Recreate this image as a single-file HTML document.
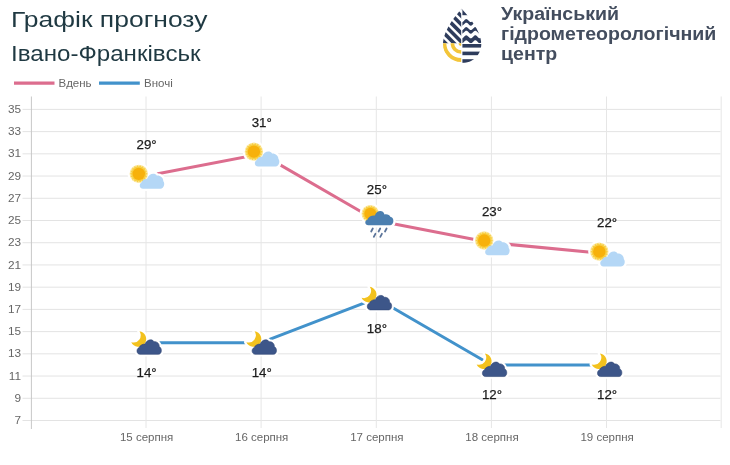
<!DOCTYPE html>
<html lang="uk"><head><meta charset="utf-8"><title>Графік прогнозу</title>
<style>
html,body{margin:0;padding:0;background:#fff;}
body{width:730px;height:465px;position:relative;overflow:hidden;font-family:"Liberation Sans", "DejaVu Sans", sans-serif;}
.t{position:absolute;left:10.8px;color:#1f3942;font-size:21.5px;white-space:nowrap;line-height:1;transform-origin:0 0;}
#t1{top:9.8px;transform:scaleX(1.231);}
#t2{top:44.2px;transform:scaleX(1.122);}
.org{position:absolute;left:500.9px;top:3.5px;color:#434d5e;font-weight:bold;font-size:17.5px;line-height:20.3px;white-space:nowrap;transform-origin:0 0;transform:scaleX(1.117);}
svg{position:absolute;left:0;top:0;}
</style></head><body>
<div id="wrap" style="position:absolute;left:0;top:0;width:730px;height:465px;filter:blur(0.4px);">
<div class="t" id="t1">Графік прогнозу</div>
<div class="t" id="t2">Івано-Франківськ</div>
<div class="org">Український<br>гідрометеорологічний<br>центр</div>
<svg width="730" height="465" viewBox="0 0 730 465" font-family='"Liberation Sans", "DejaVu Sans", sans-serif'>
<line x1="22.5" y1="420.50" x2="720.5" y2="420.50" stroke="#e3e3e3" stroke-width="1"/>
<text x="21.1" y="424.10" text-anchor="end" font-size="11.8" fill="#666">7</text>
<line x1="22.5" y1="398.28" x2="720.5" y2="398.28" stroke="#e3e3e3" stroke-width="1"/>
<text x="21.1" y="401.88" text-anchor="end" font-size="11.8" fill="#666">9</text>
<line x1="22.5" y1="376.06" x2="720.5" y2="376.06" stroke="#e3e3e3" stroke-width="1"/>
<text x="21.1" y="379.66" text-anchor="end" font-size="11.8" fill="#666">11</text>
<line x1="22.5" y1="353.83" x2="720.5" y2="353.83" stroke="#e3e3e3" stroke-width="1"/>
<text x="21.1" y="357.43" text-anchor="end" font-size="11.8" fill="#666">13</text>
<line x1="22.5" y1="331.61" x2="720.5" y2="331.61" stroke="#e3e3e3" stroke-width="1"/>
<text x="21.1" y="335.21" text-anchor="end" font-size="11.8" fill="#666">15</text>
<line x1="22.5" y1="309.39" x2="720.5" y2="309.39" stroke="#e3e3e3" stroke-width="1"/>
<text x="21.1" y="312.99" text-anchor="end" font-size="11.8" fill="#666">17</text>
<line x1="22.5" y1="287.17" x2="720.5" y2="287.17" stroke="#e3e3e3" stroke-width="1"/>
<text x="21.1" y="290.77" text-anchor="end" font-size="11.8" fill="#666">19</text>
<line x1="22.5" y1="264.95" x2="720.5" y2="264.95" stroke="#e3e3e3" stroke-width="1"/>
<text x="21.1" y="268.55" text-anchor="end" font-size="11.8" fill="#666">21</text>
<line x1="22.5" y1="242.72" x2="720.5" y2="242.72" stroke="#e3e3e3" stroke-width="1"/>
<text x="21.1" y="246.32" text-anchor="end" font-size="11.8" fill="#666">23</text>
<line x1="22.5" y1="220.50" x2="720.5" y2="220.50" stroke="#e3e3e3" stroke-width="1"/>
<text x="21.1" y="224.10" text-anchor="end" font-size="11.8" fill="#666">25</text>
<line x1="22.5" y1="198.28" x2="720.5" y2="198.28" stroke="#e3e3e3" stroke-width="1"/>
<text x="21.1" y="201.88" text-anchor="end" font-size="11.8" fill="#666">27</text>
<line x1="22.5" y1="176.06" x2="720.5" y2="176.06" stroke="#e3e3e3" stroke-width="1"/>
<text x="21.1" y="179.66" text-anchor="end" font-size="11.8" fill="#666">29</text>
<line x1="22.5" y1="153.84" x2="720.5" y2="153.84" stroke="#e3e3e3" stroke-width="1"/>
<text x="21.1" y="157.44" text-anchor="end" font-size="11.8" fill="#666">31</text>
<line x1="22.5" y1="131.61" x2="720.5" y2="131.61" stroke="#e3e3e3" stroke-width="1"/>
<text x="21.1" y="135.21" text-anchor="end" font-size="11.8" fill="#666">33</text>
<line x1="22.5" y1="109.39" x2="720.5" y2="109.39" stroke="#e3e3e3" stroke-width="1"/>
<text x="21.1" y="112.99" text-anchor="end" font-size="11.8" fill="#666">35</text>
<line x1="31.4" y1="96.5" x2="31.4" y2="429" stroke="#c8c8c8" stroke-width="1"/>
<line x1="146.0" y1="96.5" x2="146.0" y2="428" stroke="#e6e6e6" stroke-width="1"/>
<line x1="261.1" y1="96.5" x2="261.1" y2="428" stroke="#e6e6e6" stroke-width="1"/>
<line x1="376.3" y1="96.5" x2="376.3" y2="428" stroke="#e6e6e6" stroke-width="1"/>
<line x1="491.4" y1="96.5" x2="491.4" y2="428" stroke="#e6e6e6" stroke-width="1"/>
<line x1="606.5" y1="96.5" x2="606.5" y2="428" stroke="#e6e6e6" stroke-width="1"/>
<line x1="721.2" y1="96.5" x2="721.2" y2="428" stroke="#e6e6e6" stroke-width="1"/>
<text x="146.60" y="440.9" text-anchor="middle" font-size="11.5" fill="#666">15 серпня</text>
<text x="261.70" y="440.9" text-anchor="middle" font-size="11.5" fill="#666">16 серпня</text>
<text x="376.90" y="440.9" text-anchor="middle" font-size="11.5" fill="#666">17 серпня</text>
<text x="492.00" y="440.9" text-anchor="middle" font-size="11.5" fill="#666">18 серпня</text>
<text x="607.10" y="440.9" text-anchor="middle" font-size="11.5" fill="#666">19 серпня</text>
<polyline points="146.00,176.06 261.10,153.84 376.30,220.50 491.40,242.72 606.50,253.83" fill="none" stroke="#dc6d8e" stroke-width="3" stroke-linejoin="round"/>
<polyline points="146.00,342.72 261.10,342.72 376.30,298.28 491.40,364.94 606.50,364.94" fill="none" stroke="#4292cb" stroke-width="3" stroke-linejoin="round"/>
<circle cx="138.80" cy="173.86" r="11.10" fill="#fff"/><path d="M143.00,188.66 C139.40,188.66 138.70,184.06 141.40,182.46 C142.40,179.66 145.00,178.66 147.00,178.96 C148.60,173.66 154.60,172.06 157.00,175.66 C160.00,175.26 163.60,178.06 163.30,181.26 C165.20,183.06 164.20,188.66 160.50,188.66 Z" fill="#fff" stroke="#fff" stroke-width="4.6" stroke-linejoin="round"/><circle cx="138.80" cy="173.86" r="9.20" fill="#fbe7a0"/><polygon points="147.50,173.86 145.89,175.11 146.98,176.83 145.04,177.46 145.46,179.45 143.43,179.37 143.15,181.39 141.26,180.62 140.31,182.43 138.80,181.06 137.29,182.43 136.34,180.62 134.45,181.39 134.17,179.37 132.14,179.45 132.56,177.46 130.62,176.83 131.71,175.11 130.10,173.86 131.71,172.61 130.62,170.88 132.56,170.26 132.14,168.27 134.17,168.34 134.45,166.32 136.34,167.09 137.29,165.29 138.80,166.66 140.31,165.29 141.26,167.09 143.15,166.32 143.43,168.34 145.46,168.27 145.04,170.26 146.98,170.88 145.89,172.61" fill="#f8cf42"/><circle cx="138.80" cy="173.86" r="6.20" fill="#f7b10b"/><path d="M143.00,188.66 C139.40,188.66 138.70,184.06 141.40,182.46 C142.40,179.66 145.00,178.66 147.00,178.96 C148.60,173.66 154.60,172.06 157.00,175.66 C160.00,175.26 163.60,178.06 163.30,181.26 C165.20,183.06 164.20,188.66 160.50,188.66 Z" fill="#b4d7f6"/>
<text x="146.60" y="149.46" text-anchor="middle" font-size="13.3" fill="#1c1c1c" stroke="#1c1c1c" stroke-width="0.25">29°</text>
<circle cx="253.90" cy="151.64" r="11.10" fill="#fff"/><path d="M258.10,166.44 C254.50,166.44 253.80,161.84 256.50,160.24 C257.50,157.44 260.10,156.44 262.10,156.74 C263.70,151.44 269.70,149.84 272.10,153.44 C275.10,153.04 278.70,155.84 278.40,159.04 C280.30,160.84 279.30,166.44 275.60,166.44 Z" fill="#fff" stroke="#fff" stroke-width="4.6" stroke-linejoin="round"/><circle cx="253.90" cy="151.64" r="9.20" fill="#fbe7a0"/><polygon points="262.60,151.64 260.99,152.89 262.08,154.61 260.14,155.24 260.56,157.23 258.53,157.15 258.25,159.17 256.36,158.40 255.41,160.20 253.90,158.84 252.39,160.20 251.44,158.40 249.55,159.17 249.27,157.15 247.24,157.23 247.66,155.24 245.72,154.61 246.81,152.89 245.20,151.64 246.81,150.39 245.72,148.66 247.66,148.04 247.24,146.04 249.27,146.12 249.55,144.10 251.44,144.87 252.39,143.07 253.90,144.44 255.41,143.07 256.36,144.87 258.25,144.10 258.53,146.12 260.56,146.04 260.14,148.04 262.08,148.66 260.99,150.39" fill="#f8cf42"/><circle cx="253.90" cy="151.64" r="6.20" fill="#f7b10b"/><path d="M258.10,166.44 C254.50,166.44 253.80,161.84 256.50,160.24 C257.50,157.44 260.10,156.44 262.10,156.74 C263.70,151.44 269.70,149.84 272.10,153.44 C275.10,153.04 278.70,155.84 278.40,159.04 C280.30,160.84 279.30,166.44 275.60,166.44 Z" fill="#b4d7f6"/>
<text x="261.70" y="127.24" text-anchor="middle" font-size="13.3" fill="#1c1c1c" stroke="#1c1c1c" stroke-width="0.25">31°</text>
<circle cx="370.30" cy="213.70" r="10.70" fill="#fff"/><path d="M368.30,225.30 C364.70,225.10 364.30,220.50 367.30,219.70 C368.30,216.50 372.30,215.00 374.80,215.50 C376.80,210.00 383.30,209.70 384.50,214.50 C387.30,214.00 389.80,215.00 390.30,216.70 C394.10,217.00 394.80,224.30 390.30,225.30 Z" fill="#fff" stroke="#fff" stroke-width="4.6" stroke-linejoin="round"/><circle cx="370.30" cy="213.70" r="8.80" fill="#fbe7a0"/><polygon points="378.60,213.70 377.00,214.88 378.10,216.54 376.19,217.10 376.66,219.04 374.67,218.91 374.45,220.89 372.63,220.09 371.74,221.88 370.30,220.50 368.86,221.88 367.97,220.09 366.15,220.89 365.93,218.91 363.94,219.04 364.41,217.10 362.50,216.54 363.60,214.88 362.00,213.70 363.60,212.52 362.50,210.86 364.41,210.30 363.94,208.37 365.93,208.49 366.15,206.51 367.97,207.31 368.86,205.53 370.30,206.90 371.74,205.53 372.63,207.31 374.45,206.51 374.67,208.49 376.66,208.37 376.19,210.30 378.10,210.86 377.00,212.52" fill="#f8cf42"/><circle cx="370.30" cy="213.70" r="6.00" fill="#f7b10b"/><path d="M368.30,225.30 C364.70,225.10 364.30,220.50 367.30,219.70 C368.30,216.50 372.30,215.00 374.80,215.50 C376.80,210.00 383.30,209.70 384.50,214.50 C387.30,214.00 389.80,215.00 390.30,216.70 C394.10,217.00 394.80,224.30 390.30,225.30 Z" fill="#4b7fb0"/><line x1="372.80" y1="228.50" x2="371.20" y2="231.50" stroke="#5a7399" stroke-width="1.8" stroke-linecap="round"/><line x1="380.20" y1="228.50" x2="378.60" y2="231.50" stroke="#5a7399" stroke-width="1.8" stroke-linecap="round"/><line x1="386.60" y1="228.50" x2="385.00" y2="231.50" stroke="#5a7399" stroke-width="1.8" stroke-linecap="round"/><line x1="375.40" y1="233.80" x2="373.80" y2="236.80" stroke="#5a7399" stroke-width="1.8" stroke-linecap="round"/><line x1="381.90" y1="233.80" x2="380.30" y2="236.80" stroke="#5a7399" stroke-width="1.8" stroke-linecap="round"/>
<text x="376.90" y="193.90" text-anchor="middle" font-size="13.3" fill="#1c1c1c" stroke="#1c1c1c" stroke-width="0.25">25°</text>
<circle cx="484.20" cy="240.52" r="11.10" fill="#fff"/><path d="M488.40,255.32 C484.80,255.32 484.10,250.72 486.80,249.12 C487.80,246.32 490.40,245.32 492.40,245.62 C494.00,240.32 500.00,238.72 502.40,242.32 C505.40,241.92 509.00,244.72 508.70,247.92 C510.60,249.72 509.60,255.32 505.90,255.32 Z" fill="#fff" stroke="#fff" stroke-width="4.6" stroke-linejoin="round"/><circle cx="484.20" cy="240.52" r="9.20" fill="#fbe7a0"/><polygon points="492.90,240.52 491.29,241.77 492.38,243.50 490.44,244.12 490.86,246.12 488.83,246.04 488.55,248.06 486.66,247.29 485.71,249.09 484.20,247.72 482.69,249.09 481.74,247.29 479.85,248.06 479.57,246.04 477.54,246.12 477.96,244.12 476.02,243.50 477.11,241.77 475.50,240.52 477.11,239.27 476.02,237.55 477.96,236.92 477.54,234.93 479.57,235.01 479.85,232.99 481.74,233.76 482.69,231.96 484.20,233.32 485.71,231.96 486.66,233.76 488.55,232.99 488.83,235.01 490.86,234.93 490.44,236.92 492.38,237.55 491.29,239.27" fill="#f8cf42"/><circle cx="484.20" cy="240.52" r="6.20" fill="#f7b10b"/><path d="M488.40,255.32 C484.80,255.32 484.10,250.72 486.80,249.12 C487.80,246.32 490.40,245.32 492.40,245.62 C494.00,240.32 500.00,238.72 502.40,242.32 C505.40,241.92 509.00,244.72 508.70,247.92 C510.60,249.72 509.60,255.32 505.90,255.32 Z" fill="#b4d7f6"/>
<text x="492.00" y="216.12" text-anchor="middle" font-size="13.3" fill="#1c1c1c" stroke="#1c1c1c" stroke-width="0.25">23°</text>
<circle cx="599.30" cy="251.63" r="11.10" fill="#fff"/><path d="M603.50,266.44 C599.90,266.44 599.20,261.83 601.90,260.23 C602.90,257.44 605.50,256.44 607.50,256.73 C609.10,251.43 615.10,249.83 617.50,253.43 C620.50,253.03 624.10,255.83 623.80,259.03 C625.70,260.83 624.70,266.44 621.00,266.44 Z" fill="#fff" stroke="#fff" stroke-width="4.6" stroke-linejoin="round"/><circle cx="599.30" cy="251.63" r="9.20" fill="#fbe7a0"/><polygon points="608.00,251.63 606.39,252.89 607.48,254.61 605.54,255.23 605.96,257.23 603.93,257.15 603.65,259.17 601.76,258.40 600.81,260.20 599.30,258.83 597.79,260.20 596.84,258.40 594.95,259.17 594.67,257.15 592.64,257.23 593.06,255.23 591.12,254.61 592.21,252.89 590.60,251.63 592.21,250.38 591.12,248.66 593.06,248.03 592.64,246.04 594.67,246.12 594.95,244.10 596.84,244.87 597.79,243.07 599.30,244.44 600.81,243.07 601.76,244.87 603.65,244.10 603.93,246.12 605.96,246.04 605.54,248.03 607.48,248.66 606.39,250.38" fill="#f8cf42"/><circle cx="599.30" cy="251.63" r="6.20" fill="#f7b10b"/><path d="M603.50,266.44 C599.90,266.44 599.20,261.83 601.90,260.23 C602.90,257.44 605.50,256.44 607.50,256.73 C609.10,251.43 615.10,249.83 617.50,253.43 C620.50,253.03 624.10,255.83 623.80,259.03 C625.70,260.83 624.70,266.44 621.00,266.44 Z" fill="#b4d7f6"/>
<text x="607.10" y="227.23" text-anchor="middle" font-size="13.3" fill="#1c1c1c" stroke="#1c1c1c" stroke-width="0.25">22°</text>
<path d="M139.47,331.30 A7.8,7.8 0 1 1 131.26,342.17 A7.2,7.2 0 0 0 139.47,331.30 Z" fill="#fff" stroke="#fff" stroke-width="4.6" stroke-linejoin="round"/><path d="M140.00,354.32 C136.40,354.22 136.00,348.72 139.00,347.72 C140.00,345.12 143.00,343.92 145.00,344.12 C146.50,339.72 152.00,338.32 154.00,341.72 C157.00,341.32 159.60,343.72 159.20,346.72 C162.20,347.72 162.20,354.12 158.50,354.32 Z" fill="#fff" stroke="#fff" stroke-width="4.6" stroke-linejoin="round"/><path d="M139.47,331.30 A7.8,7.8 0 1 1 131.26,342.17 A7.2,7.2 0 0 0 139.47,331.30 Z" fill="#f3c21e"/><path d="M140.00,354.32 C136.40,354.22 136.00,348.72 139.00,347.72 C140.00,345.12 143.00,343.92 145.00,344.12 C146.50,339.72 152.00,338.32 154.00,341.72 C157.00,341.32 159.60,343.72 159.20,346.72 C162.20,347.72 162.20,354.12 158.50,354.32 Z" fill="#3d5689" stroke="#2f4574" stroke-width="0.6"/>
<text x="146.60" y="377.22" text-anchor="middle" font-size="13.3" fill="#1c1c1c" stroke="#1c1c1c" stroke-width="0.25">14°</text>
<path d="M254.57,331.30 A7.8,7.8 0 1 1 246.36,342.17 A7.2,7.2 0 0 0 254.57,331.30 Z" fill="#fff" stroke="#fff" stroke-width="4.6" stroke-linejoin="round"/><path d="M255.10,354.32 C251.50,354.22 251.10,348.72 254.10,347.72 C255.10,345.12 258.10,343.92 260.10,344.12 C261.60,339.72 267.10,338.32 269.10,341.72 C272.10,341.32 274.70,343.72 274.30,346.72 C277.30,347.72 277.30,354.12 273.60,354.32 Z" fill="#fff" stroke="#fff" stroke-width="4.6" stroke-linejoin="round"/><path d="M254.57,331.30 A7.8,7.8 0 1 1 246.36,342.17 A7.2,7.2 0 0 0 254.57,331.30 Z" fill="#f3c21e"/><path d="M255.10,354.32 C251.50,354.22 251.10,348.72 254.10,347.72 C255.10,345.12 258.10,343.92 260.10,344.12 C261.60,339.72 267.10,338.32 269.10,341.72 C272.10,341.32 274.70,343.72 274.30,346.72 C277.30,347.72 277.30,354.12 273.60,354.32 Z" fill="#3d5689" stroke="#2f4574" stroke-width="0.6"/>
<text x="261.70" y="377.22" text-anchor="middle" font-size="13.3" fill="#1c1c1c" stroke="#1c1c1c" stroke-width="0.25">14°</text>
<path d="M369.77,286.85 A7.8,7.8 0 1 1 361.56,297.72 A7.2,7.2 0 0 0 369.77,286.85 Z" fill="#fff" stroke="#fff" stroke-width="4.6" stroke-linejoin="round"/><path d="M370.30,309.88 C366.70,309.78 366.30,304.28 369.30,303.28 C370.30,300.68 373.30,299.48 375.30,299.68 C376.80,295.28 382.30,293.88 384.30,297.28 C387.30,296.88 389.90,299.28 389.50,302.28 C392.50,303.28 392.50,309.68 388.80,309.88 Z" fill="#fff" stroke="#fff" stroke-width="4.6" stroke-linejoin="round"/><path d="M369.77,286.85 A7.8,7.8 0 1 1 361.56,297.72 A7.2,7.2 0 0 0 369.77,286.85 Z" fill="#f3c21e"/><path d="M370.30,309.88 C366.70,309.78 366.30,304.28 369.30,303.28 C370.30,300.68 373.30,299.48 375.30,299.68 C376.80,295.28 382.30,293.88 384.30,297.28 C387.30,296.88 389.90,299.28 389.50,302.28 C392.50,303.28 392.50,309.68 388.80,309.88 Z" fill="#3d5689" stroke="#2f4574" stroke-width="0.6"/>
<text x="376.90" y="332.78" text-anchor="middle" font-size="13.3" fill="#1c1c1c" stroke="#1c1c1c" stroke-width="0.25">18°</text>
<path d="M484.87,353.52 A7.8,7.8 0 1 1 476.66,364.39 A7.2,7.2 0 0 0 484.87,353.52 Z" fill="#fff" stroke="#fff" stroke-width="4.6" stroke-linejoin="round"/><path d="M485.40,376.55 C481.80,376.44 481.40,370.94 484.40,369.94 C485.40,367.34 488.40,366.14 490.40,366.34 C491.90,361.94 497.40,360.55 499.40,363.94 C502.40,363.55 505.00,365.94 504.60,368.94 C507.60,369.94 507.60,376.34 503.90,376.55 Z" fill="#fff" stroke="#fff" stroke-width="4.6" stroke-linejoin="round"/><path d="M484.87,353.52 A7.8,7.8 0 1 1 476.66,364.39 A7.2,7.2 0 0 0 484.87,353.52 Z" fill="#f3c21e"/><path d="M485.40,376.55 C481.80,376.44 481.40,370.94 484.40,369.94 C485.40,367.34 488.40,366.14 490.40,366.34 C491.90,361.94 497.40,360.55 499.40,363.94 C502.40,363.55 505.00,365.94 504.60,368.94 C507.60,369.94 507.60,376.34 503.90,376.55 Z" fill="#3d5689" stroke="#2f4574" stroke-width="0.6"/>
<text x="492.00" y="399.44" text-anchor="middle" font-size="13.3" fill="#1c1c1c" stroke="#1c1c1c" stroke-width="0.25">12°</text>
<path d="M599.97,353.52 A7.8,7.8 0 1 1 591.76,364.39 A7.2,7.2 0 0 0 599.97,353.52 Z" fill="#fff" stroke="#fff" stroke-width="4.6" stroke-linejoin="round"/><path d="M600.50,376.55 C596.90,376.44 596.50,370.94 599.50,369.94 C600.50,367.34 603.50,366.14 605.50,366.34 C607.00,361.94 612.50,360.55 614.50,363.94 C617.50,363.55 620.10,365.94 619.70,368.94 C622.70,369.94 622.70,376.34 619.00,376.55 Z" fill="#fff" stroke="#fff" stroke-width="4.6" stroke-linejoin="round"/><path d="M599.97,353.52 A7.8,7.8 0 1 1 591.76,364.39 A7.2,7.2 0 0 0 599.97,353.52 Z" fill="#f3c21e"/><path d="M600.50,376.55 C596.90,376.44 596.50,370.94 599.50,369.94 C600.50,367.34 603.50,366.14 605.50,366.34 C607.00,361.94 612.50,360.55 614.50,363.94 C617.50,363.55 620.10,365.94 619.70,368.94 C622.70,369.94 622.70,376.34 619.00,376.55 Z" fill="#3d5689" stroke="#2f4574" stroke-width="0.6"/>
<text x="607.10" y="399.44" text-anchor="middle" font-size="13.3" fill="#1c1c1c" stroke="#1c1c1c" stroke-width="0.25">12°</text>
<line x1="14" y1="83.2" x2="54.5" y2="83.2" stroke="#dc6d8e" stroke-width="3.2"/>
<text x="58.6" y="86.6" font-size="11.5" fill="#666">Вдень</text>
<line x1="99" y1="83.2" x2="139.8" y2="83.2" stroke="#4292cb" stroke-width="3.2"/>
<text x="144" y="86.6" font-size="11.5" fill="#666">Вночі</text>
<defs>
<clipPath id="dl"><path d="M461.6,8.6 C457,14.5 443.5,29 443,44.5 C443,55.5 451.5,63.2 462,63.2 C472.5,63.2 481.3,55 481.3,44 C481.3,30 466.5,14.5 461.6,8.6 Z"/></clipPath>
</defs>
<g clip-path="url(#dl)">
<clipPath id="lu"><rect x="430" y="0" width="31.20" height="43.2"/></clipPath>
<clipPath id="ru"><rect x="462.40" y="0" width="40" height="43.2"/></clipPath>
<clipPath id="ll"><rect x="430" y="43.2" width="31.20" height="30"/></clipPath>
<clipPath id="rl"><rect x="462.40" y="43.2" width="40" height="30"/></clipPath>
<g clip-path="url(#lu)">
<line x1="421.80" y1="-75.10" x2="501.80" y2="4.90" stroke="#2e3c5c" stroke-width="3.6"/>
<line x1="421.80" y1="-66.50" x2="501.80" y2="13.50" stroke="#2e3c5c" stroke-width="3.6"/>
<line x1="421.80" y1="-57.90" x2="501.80" y2="22.10" stroke="#2e3c5c" stroke-width="3.6"/>
<line x1="421.80" y1="-49.30" x2="501.80" y2="30.70" stroke="#2e3c5c" stroke-width="3.6"/>
<line x1="421.80" y1="-40.70" x2="501.80" y2="39.30" stroke="#2e3c5c" stroke-width="3.6"/>
<line x1="421.80" y1="-32.10" x2="501.80" y2="47.90" stroke="#2e3c5c" stroke-width="3.6"/>
<line x1="421.80" y1="-23.50" x2="501.80" y2="56.50" stroke="#2e3c5c" stroke-width="3.6"/>
<line x1="421.80" y1="-14.90" x2="501.80" y2="65.10" stroke="#2e3c5c" stroke-width="3.6"/>
<line x1="421.80" y1="-6.30" x2="501.80" y2="73.70" stroke="#2e3c5c" stroke-width="3.6"/>
<line x1="421.80" y1="2.30" x2="501.80" y2="82.30" stroke="#2e3c5c" stroke-width="3.6"/>
<line x1="421.80" y1="10.90" x2="501.80" y2="90.90" stroke="#2e3c5c" stroke-width="3.6"/>
<line x1="421.80" y1="19.50" x2="501.80" y2="99.50" stroke="#2e3c5c" stroke-width="3.6"/>
<line x1="421.80" y1="28.10" x2="501.80" y2="108.10" stroke="#2e3c5c" stroke-width="3.6"/>
</g>
<g clip-path="url(#ru)">
<rect x="440" y="0" width="50" height="15.2" fill="#2e3c5c"/>
<path d="M461.80,22.10 L462.36,21.99 L462.91,21.67 L463.47,21.20 L464.02,20.63 L464.57,20.06 L465.13,19.57 L465.69,19.24 L466.24,19.10 L466.80,19.19 L467.35,19.49 L467.91,19.95 L468.46,20.51 L469.01,21.08 L469.57,21.58 L470.12,21.94 L470.68,22.09 L471.24,22.03 L471.79,21.76 L472.35,21.31 L472.90,20.76 L473.45,20.18 L474.01,19.67 L474.56,19.29 L475.12,19.11 L475.68,19.15 L476.23,19.41 L476.79,19.84 L477.34,20.38 L477.89,20.96 L478.45,21.48 L479.00,21.87 L479.56,22.08 L480.12,22.06 L480.67,21.83 L481.23,21.42 L481.78,20.88 L482.33,20.30 L482.89,19.77 L483.44,19.36 L484.00,19.13 L484.00,22.73 L483.44,22.96 L482.89,23.37 L482.33,23.90 L481.78,24.48 L481.23,25.02 L480.67,25.43 L480.12,25.66 L479.56,25.68 L479.00,25.47 L478.45,25.08 L477.89,24.56 L477.34,23.98 L476.79,23.44 L476.23,23.01 L475.68,22.75 L475.12,22.71 L474.56,22.89 L474.01,23.27 L473.45,23.78 L472.90,24.36 L472.35,24.91 L471.79,25.36 L471.24,25.63 L470.68,25.69 L470.12,25.54 L469.57,25.18 L469.01,24.68 L468.46,24.11 L467.91,23.55 L467.35,23.09 L466.80,22.79 L466.24,22.70 L465.69,22.84 L465.13,23.17 L464.57,23.66 L464.02,24.23 L463.47,24.80 L462.91,25.27 L462.36,25.59 L461.80,25.70 Z" fill="#2e3c5c"/>
<path d="M461.80,30.10 L462.36,29.99 L462.91,29.67 L463.47,29.20 L464.02,28.63 L464.57,28.06 L465.13,27.57 L465.69,27.24 L466.24,27.10 L466.80,27.19 L467.35,27.49 L467.91,27.95 L468.46,28.51 L469.01,29.08 L469.57,29.58 L470.12,29.94 L470.68,30.09 L471.24,30.03 L471.79,29.76 L472.35,29.31 L472.90,28.76 L473.45,28.18 L474.01,27.67 L474.56,27.29 L475.12,27.11 L475.68,27.15 L476.23,27.41 L476.79,27.84 L477.34,28.38 L477.89,28.96 L478.45,29.48 L479.00,29.87 L479.56,30.08 L480.12,30.06 L480.67,29.83 L481.23,29.42 L481.78,28.88 L482.33,28.30 L482.89,27.77 L483.44,27.36 L484.00,27.13 L484.00,30.73 L483.44,30.96 L482.89,31.37 L482.33,31.90 L481.78,32.48 L481.23,33.02 L480.67,33.43 L480.12,33.66 L479.56,33.68 L479.00,33.47 L478.45,33.08 L477.89,32.56 L477.34,31.98 L476.79,31.44 L476.23,31.01 L475.68,30.75 L475.12,30.71 L474.56,30.89 L474.01,31.27 L473.45,31.78 L472.90,32.36 L472.35,32.91 L471.79,33.36 L471.24,33.63 L470.68,33.69 L470.12,33.54 L469.57,33.18 L469.01,32.68 L468.46,32.11 L467.91,31.55 L467.35,31.09 L466.80,30.79 L466.24,30.70 L465.69,30.84 L465.13,31.17 L464.57,31.66 L464.02,32.23 L463.47,32.80 L462.91,33.27 L462.36,33.59 L461.80,33.70 Z" fill="#2e3c5c"/>
<path d="M461.80,38.30 L462.36,38.19 L462.91,37.87 L463.47,37.40 L464.02,36.83 L464.57,36.26 L465.13,35.77 L465.69,35.44 L466.24,35.30 L466.80,35.39 L467.35,35.69 L467.91,36.15 L468.46,36.71 L469.01,37.28 L469.57,37.78 L470.12,38.14 L470.68,38.29 L471.24,38.23 L471.79,37.96 L472.35,37.51 L472.90,36.96 L473.45,36.38 L474.01,35.87 L474.56,35.49 L475.12,35.31 L475.68,35.35 L476.23,35.61 L476.79,36.04 L477.34,36.58 L477.89,37.16 L478.45,37.68 L479.00,38.07 L479.56,38.28 L480.12,38.26 L480.67,38.03 L481.23,37.62 L481.78,37.08 L482.33,36.50 L482.89,35.97 L483.44,35.56 L484.00,35.33 L484.00,40.33 L483.44,40.56 L482.89,40.97 L482.33,41.50 L481.78,42.08 L481.23,42.62 L480.67,43.03 L480.12,43.26 L479.56,43.28 L479.00,43.07 L478.45,42.68 L477.89,42.16 L477.34,41.58 L476.79,41.04 L476.23,40.61 L475.68,40.35 L475.12,40.31 L474.56,40.49 L474.01,40.87 L473.45,41.38 L472.90,41.96 L472.35,42.51 L471.79,42.96 L471.24,43.23 L470.68,43.29 L470.12,43.14 L469.57,42.78 L469.01,42.28 L468.46,41.71 L467.91,41.15 L467.35,40.69 L466.80,40.39 L466.24,40.30 L465.69,40.44 L465.13,40.77 L464.57,41.26 L464.02,41.83 L463.47,42.40 L462.91,42.87 L462.36,43.19 L461.80,43.30 Z" fill="#2e3c5c"/>
</g>
<g clip-path="url(#rl)">
<rect x="461.80" y="44.0" width="25" height="3.6" fill="#2e3c5c"/>
<rect x="461.80" y="51.6" width="25" height="3.6" fill="#2e3c5c"/>
<rect x="461.80" y="59.2" width="25" height="3.6" fill="#2e3c5c"/>
</g>
<g clip-path="url(#ll)">
<circle cx="461.20" cy="43.2" r="16.8" fill="none" stroke="#f3c53a" stroke-width="3.8"/>
<circle cx="461.20" cy="43.2" r="8.8" fill="none" stroke="#f3c53a" stroke-width="3.6"/>
<circle cx="461.20" cy="43.2" r="2.6" fill="#f3c53a"/>
</g>
</g>
</svg>
</div>
</body></html>
